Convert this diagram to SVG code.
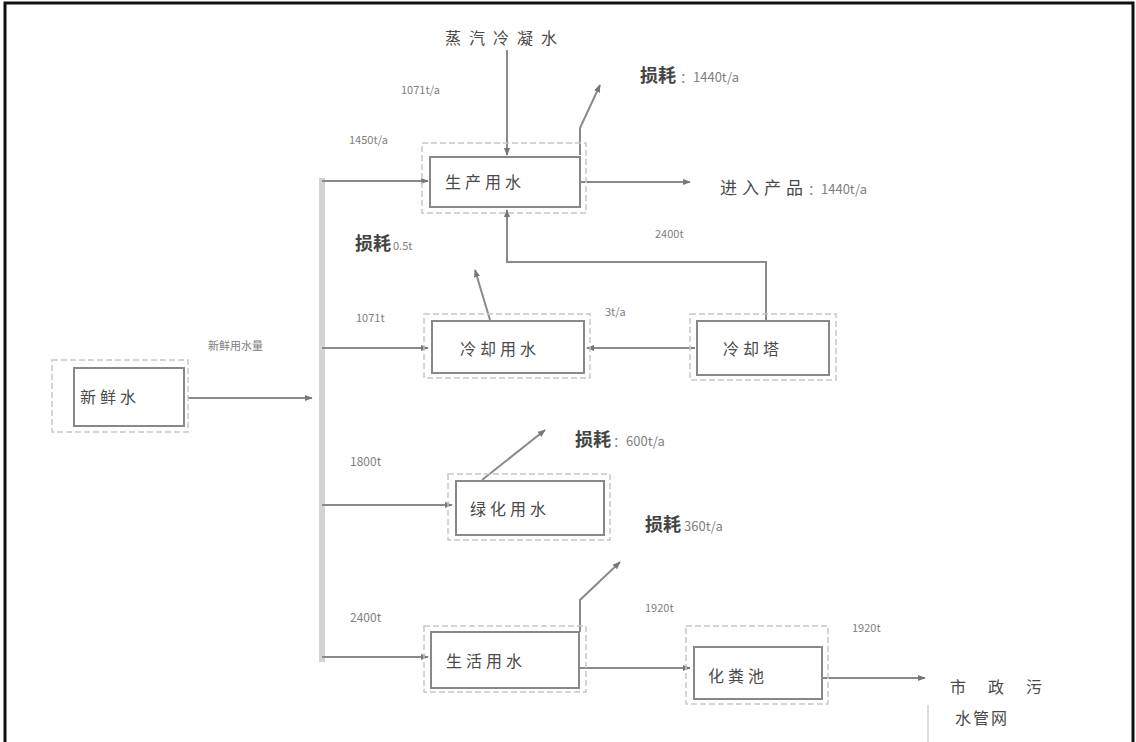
<svg xmlns="http://www.w3.org/2000/svg" width="1136" height="742" viewBox="0 0 1136 742">
<defs>
<marker id="ah" viewBox="0 0 10 10" refX="9" refY="5" markerWidth="8" markerHeight="8" orient="auto" markerUnits="userSpaceOnUse">
<path d="M0,1 L10,5 L0,9 Z" fill="#777"/>
</marker>
</defs>
<style>
.frame{fill:none;stroke:#111;stroke-width:3}
.box{fill:#fff;stroke:#888;stroke-width:2}
.outer{fill:none;stroke:#c8c8c8;stroke-width:1.5;stroke-dasharray:6 3}
.ln{fill:none;stroke:#8a8a8a;stroke-width:2}
.trunk{fill:none;stroke:#d4d4d4;stroke-width:6}
.arr{marker-end:url(#ah)}
.t{font-family:"Noto Sans CJK SC","Liberation Sans",sans-serif;fill:#4a4a4a;font-size:16px;letter-spacing:4px}
.s{font-family:"Noto Sans CJK SC","Liberation Sans",sans-serif;fill:#808080;font-size:11px}
.b{font-family:"Noto Sans CJK SC","Liberation Sans",sans-serif;fill:#444;font-size:18px;font-weight:bold}
</style>
<rect x="0" y="0" width="1136" height="742" fill="#fff"/>
<rect class="frame" x="5" y="3" width="1128" height="760"/>

<g id="connectors">
<line class="trunk" x1="322" y1="178" x2="322" y2="662"/>
<line class="ln arr" x1="188" y1="398" x2="312" y2="398"/>
<line class="ln arr" x1="322" y1="181" x2="428" y2="181"/>
<line class="ln arr" x1="322" y1="348" x2="428" y2="348"/>
<line class="ln arr" x1="322" y1="505" x2="452" y2="505"/>
<line class="ln arr" x1="322" y1="657" x2="428" y2="657"/>
<line class="ln arr" x1="507" y1="50" x2="507" y2="155"/>
<polyline class="ln arr" points="580,155 580,128 600,85"/>
<line class="ln arr" x1="580" y1="182" x2="690" y2="182"/>
<polyline class="ln arr" points="766,320 766,262 507,262 507,210"/>
<line class="ln arr" x1="490" y1="320" x2="475" y2="270"/>
<line class="ln arr" x1="695" y1="348" x2="587" y2="348"/>
<line class="ln arr" x1="482" y1="480" x2="545" y2="430"/>
<polyline class="ln arr" points="580,632 580,600 620,562"/>
<line class="ln arr" x1="580" y1="668" x2="690" y2="668"/>
<line class="ln arr" x1="823" y1="678" x2="925" y2="678"/>
<line x1="928" y1="705" x2="928" y2="742" stroke="#ddd" stroke-width="2"/>
</g>

<g id="node-source">
<rect class="outer" x="52" y="360" width="136" height="72"/>
<rect class="box" x="74" y="368" width="110" height="58"/>
<text class="t" x="80" y="403">新鲜水</text>
</g>

<g id="node-production">
<rect class="outer" x="422" y="143" width="164" height="70"/>
<rect class="box" x="430" y="157" width="150" height="50"/>
<text class="t" x="445" y="188">生产用水</text>
</g>

<g id="node-cooling">
<rect class="outer" x="424" y="314" width="166" height="64"/>
<rect class="box" x="432" y="321" width="152" height="52"/>
<text class="t" x="460" y="355">冷却用水</text>
</g>

<g id="node-tower">
<rect class="outer" x="690" y="314" width="146" height="66"/>
<rect class="box" x="697" y="321" width="132" height="54"/>
<text class="t" x="723" y="355">冷却塔</text>
</g>

<g id="node-green">
<rect class="outer" x="448" y="474" width="162" height="66"/>
<rect class="box" x="456" y="481" width="148" height="54"/>
<text class="t" x="470" y="515">绿化用水</text>
</g>

<g id="node-living">
<rect class="outer" x="424" y="626" width="162" height="66"/>
<rect class="box" x="431" y="632" width="148" height="56"/>
<text class="t" x="446" y="667">生活用水</text>
</g>

<g id="node-septic">
<rect class="outer" x="686" y="626" width="142" height="78"/>
<rect class="box" x="694" y="647" width="128" height="52"/>
<text class="t" x="708" y="682">化粪池</text>
</g>

<g id="labels">
<text class="t" x="445" y="44" style="letter-spacing:8px">蒸汽冷凝水</text>
<text class="s" x="401" y="94">1071t/a</text>
<text class="s" x="349" y="144">1450t/a</text>
<text class="b" x="640" y="82">损耗</text><text class="s" x="680" y="82" style="font-size:13px">：1440t/a</text>
<text class="t" x="720" y="194" style="font-size:17px;letter-spacing:5px">进入产品</text><text class="s" x="808" y="194" style="font-size:13px">：1440t/a</text>
<text class="b" x="355" y="250">损耗</text><text class="s" x="393" y="250">0.5t</text>
<text class="s" x="655" y="238">2400t</text>
<text class="s" x="356" y="322">1071t</text>
<text class="s" x="605" y="316">3t/a</text>
<text class="s" x="208" y="350">新鲜用水量</text>
<text class="s" x="350" y="466" style="font-size:12px">1800t</text>
<text class="b" x="575" y="446">损耗</text><text class="s" x="613" y="446" style="font-size:13px">：600t/a</text>
<text class="b" x="645" y="531">损耗</text><text class="s" x="684" y="531" style="font-size:13px">360t/a</text>
<text class="s" x="350" y="622" style="font-size:12px">2400t</text>
<text class="s" x="645" y="612">1920t</text>
<text class="s" x="852" y="632">1920t</text>
<text class="t" x="950" y="693" style="letter-spacing:22px">市政污</text>
<text class="t" x="955" y="724" style="letter-spacing:2px">水管网</text>
</g>
</svg>
